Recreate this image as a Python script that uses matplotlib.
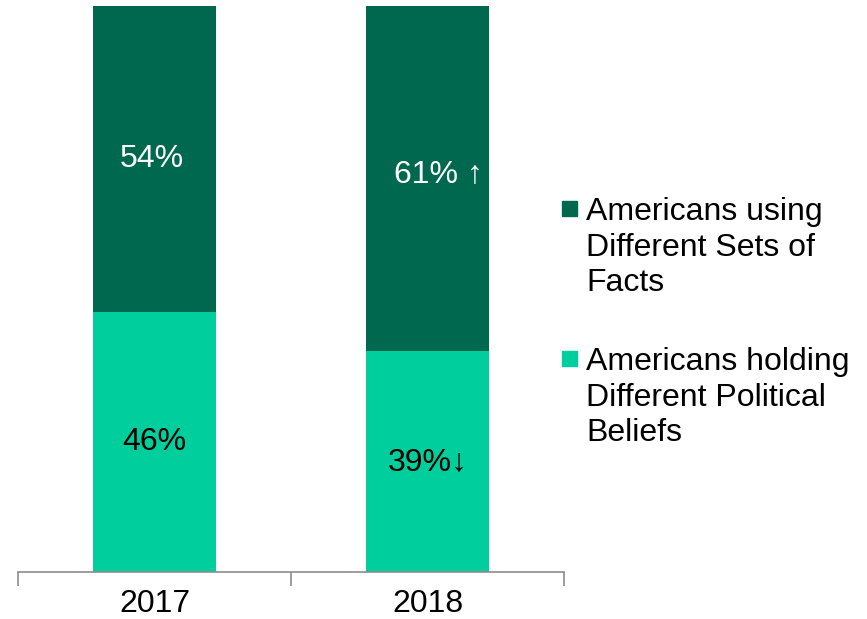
import matplotlib
matplotlib.use('Agg')
import matplotlib.pyplot as plt
from matplotlib.patches import Rectangle

plt.rcParams['font.family'] = ['Liberation Sans', 'DejaVu Sans']

# data
years = ['2017', '2018']
beliefs = [0.46, 0.39]   # Americans holding Different Political Beliefs
facts = [0.54, 0.61]     # Americans using Different Sets of Facts
belief_labels = ['46%', '39%\u2193']
fact_labels = ['54%', '61% \u2191']
legend_labels = ['Americans using\nDifferent Sets of\nFacts',
                 'Americans holding\nDifferent Political\nBeliefs']

dark = '#00684F'
light = '#00CE9C'

fig = plt.figure(figsize=(8.67, 6.19), dpi=100)
ax = fig.add_axes([18 / 867, 47 / 619, 546 / 867, 566 / 619])

x = range(len(years))
ax.bar(x, beliefs, width=0.45, color=light)
ax.bar(x, facts, width=0.45, bottom=beliefs, color=dark)

for i in x:
    ax.text(i, beliefs[i] / 2, belief_labels[i], ha='center', va='center',
            fontsize=23, color='black')
    ax.text(i + (0.04 if i == 1 else -0.01), beliefs[i] + facts[i] / 2 + (0.008 if i == 1 else 0),
            fact_labels[i], ha='center', va='center', fontsize=23, color='white')

ax.set_xlim(-0.5, 1.5)
ax.set_ylim(0, 1)
ax.set_xticks([-0.5, 0.5, 1.5])
ax.set_xticklabels([])
ax.set_xticks(list(x), minor=True)
ax.set_xticklabels(years, minor=True, fontsize=23)
ax.tick_params(axis='x', which='major', length=10, width=1.2, color='#8c8c8c')
ax.tick_params(axis='x', which='minor', length=0, pad=12)
ax.set_yticks([])
for s in ['top', 'right', 'left']:
    ax.spines[s].set_visible(False)
ax.spines['bottom'].set_color('#8c8c8c')
ax.spines['bottom'].set_linewidth(1.2)

# legend drawn by hand so the square sits on the first line
for lab, col, ytop in [(legend_labels[0], dark, 201), (legend_labels[1], light, 351)]:
    fig.patches.append(Rectangle((562 / 867, 1 - (ytop + 15) / 619), 15 / 867, 15 / 619,
                                 transform=fig.transFigure, color=col))
    fig.text(586 / 867, 1 - (ytop - 4) / 619, lab, ha='left', va='top',
             fontsize=23, linespacing=1.25)

fig.savefig('out.png', dpi=100)
